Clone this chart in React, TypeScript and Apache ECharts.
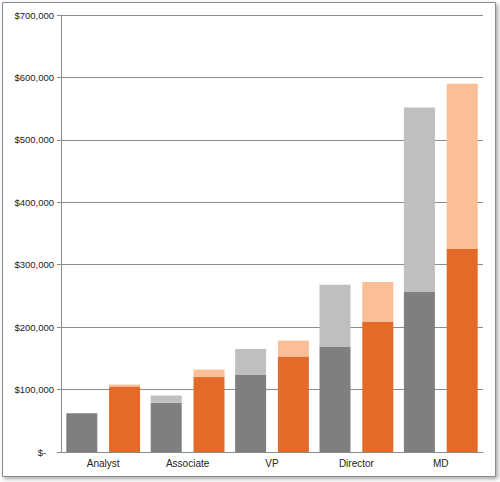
import React, { FC, useEffect, useRef } from "react";
import * as echarts from "echarts";

const categories = ["Analyst", "Associate", "VP", "Director", "MD"];
const grayBase = [62000, 79000, 124000, 169000, 257000];
const grayTop = [0, 11500, 41000, 99000, 295000];
const orangeBase = [105000, 120000, 153000, 209000, 326000];
const orangeTop = [3000, 12000, 25500, 63500, 264000];

const fmt = (v: number) => (v === 0 ? "$-   " : "$" + v.toLocaleString("en-US"));

const App: FC = () => {
  const ref = useRef<HTMLDivElement>(null);

  useEffect(() => {
    const chart = echarts.init(ref.current, null, { renderer: "svg" });
    const bar = (name: string, data: number[], stack: string, color: string) => ({
      name,
      type: "bar",
      stack,
      data,
      barWidth: 31,
      barGap: "38%",
      itemStyle: { color },
    });
    chart.setOption({
      animation: false,
      backgroundColor: "#fff",
      graphic: [
        {
          type: "rect",
          z: -10,
          shape: { x: 2.5, y: 2.5, width: 493, height: 474 },
          style: {
            fill: "#fff",
            stroke: "#8a8a8a",
            lineWidth: 1,
            shadowBlur: 4,
            shadowOffsetX: 2,
            shadowOffsetY: 2,
            shadowColor: "rgba(0,0,0,0.35)",
          },
        },
      ],
      grid: { left: 61, top: 15, right: 17, bottom: 30 },
      xAxis: {
        type: "category",
        data: categories,
        axisLine: { lineStyle: { color: "#8c8c8c" } },
        axisTick: { length: 16, lineStyle: { color: "#8c8c8c" } },
        axisLabel: {
          color: "#222",
          fontFamily: "Liberation Sans",
          fontSize: 10,
          margin: 6,
        },
      },
      yAxis: {
        type: "value",
        min: 0,
        max: 700000,
        interval: 100000,
        axisLine: { show: true, lineStyle: { color: "#8c8c8c" } },
        axisTick: { show: true, length: 4, lineStyle: { color: "#8c8c8c" } },
        splitLine: { lineStyle: { color: "#8c8c8c" } },
        axisLabel: {
          color: "#222",
          fontFamily: "Liberation Sans",
          fontSize: 9.5,
          margin: 7,
          formatter: fmt,
        },
      },
      series: [
        bar("Gray base", grayBase, "gray", "#7f7f7f"),
        bar("Gray top", grayTop, "gray", "#bfbfbf"),
        bar("Orange base", orangeBase, "orange", "#e46a28"),
        bar("Orange top", orangeTop, "orange", "#fbbf97"),
      ],
    });
    return () => {
      chart.dispose();
    };
  }, []);

  return (
    <div
      ref={ref}
      style={{ position: "absolute", left: 0, top: 0, width: 500, height: 482 }}
    ></div>
  );
};

export default App;
